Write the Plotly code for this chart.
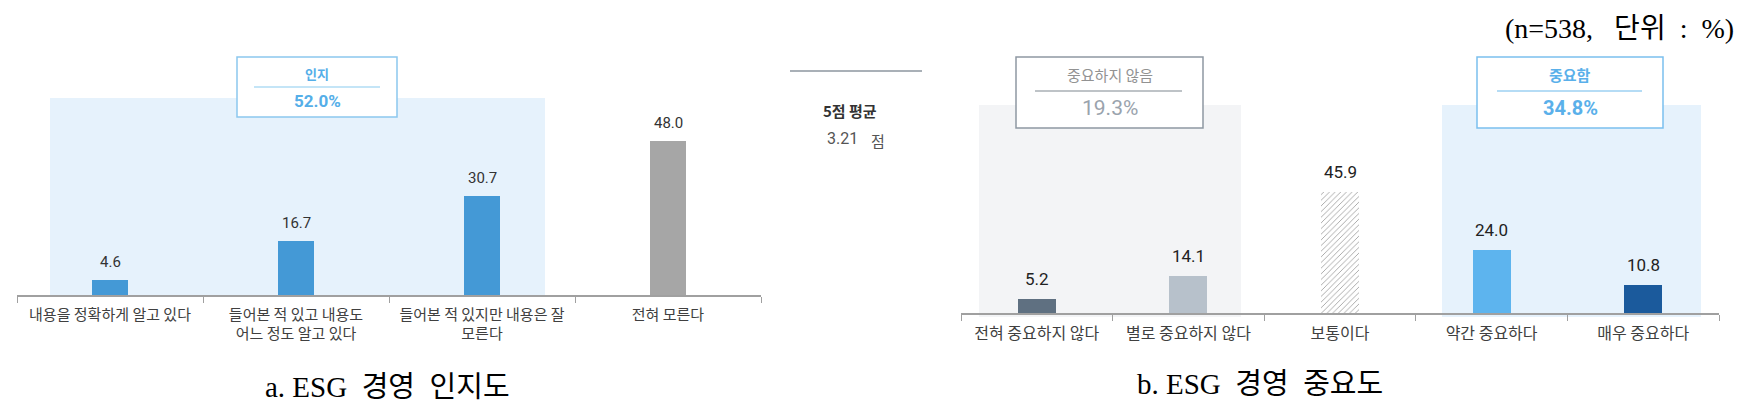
import plotly.graph_objects as go

# ---------------- data ----------------
aw_cats = ["내용을 정확하게 알고 있다",
           "들어본 적 있고 내용도<br>어느 정도 알고 있다",
           "들어본 적 있지만 내용은 잘<br>모른다",
           "전혀 모른다"]
aw_vals = [4.6, 16.7, 30.7, 48.0]
aw_colors = ["#4499D6", "#4499D6", "#4499D6", "#A6A6A6"]
aware_total = 52.0

im_cats = ["전혀 중요하지 않다", "별로 중요하지 않다", "보통이다", "약간 중요하다", "매우 중요하다"]
im_vals = [5.2, 14.1, 45.9, 24.0, 10.8]
im_colors = ["#5F7081", "#B7C1CB", "#FFFFFF", "#5DB4EE", "#1B5A9C"]
im_pattern = ["", "", "/", "", ""]
not_important_total = 19.3
important_total = 34.8
avg_score = 3.21
n_resp = 538

# ---------------- helpers (page pixel -> paper) ----------------
# the page body has an 8px default margin, so the figure is offset by 8px
PAGE_W, PAGE_H = 1749, 413
OFF = 8
W, H = PAGE_W - OFF, PAGE_H - OFF
def px(x):
    return (x - OFF) / W
def py(y):
    return 1 - (y - OFF) / H

SANS = "Roboto, Noto Sans CJK KR, sans-serif"
KR = "Noto Sans CJK KR, sans-serif"
SERIF = "Liberation Serif, Noto Sans CJK KR, serif"
SP = "\u00a0"

fig = go.Figure()

fig.add_trace(go.Bar(
    x=aw_cats, y=aw_vals, marker=dict(color=aw_colors, line=dict(width=0)),
    width=0.19, xaxis="x", yaxis="y", hoverinfo="skip", showlegend=False))

fig.add_trace(go.Bar(
    x=im_cats, y=im_vals,
    marker=dict(color=im_colors, line=dict(width=0),
                pattern=dict(shape=im_pattern, fgcolor="#D3D8DE", bgcolor="#FFFFFF",
                             size=4, solidity=0.22)),
    width=0.25, xaxis="x2", yaxis="y2", hoverinfo="skip", showlegend=False))

annotations = []
for c, v in zip(aw_cats, aw_vals):
    annotations.append(dict(x=c, y=v, xref="x", yref="y", text=f"{v:.1f}",
                            showarrow=False, yanchor="middle", yshift=18,
                            font=dict(family=SANS, size=15, color="#333333")))
for c, v in zip(im_cats, im_vals):
    annotations.append(dict(x=c, y=v, xref="x2", yref="y2", text=f"{v:.1f}",
                            showarrow=False, yanchor="middle", yshift=20,
                            font=dict(family=SANS, size=17, color="#222222")))

shapes = []
# shaded groups
shapes.append(dict(type="rect", xref="paper", yref="paper", x0=px(50), x1=px(545),
                   y0=py(295), y1=py(98), fillcolor="#E6F2FC", line=dict(width=0), layer="below"))
shapes.append(dict(type="rect", xref="paper", yref="paper", x0=px(979), x1=px(1241),
                   y0=py(317), y1=py(105), fillcolor="#F3F4F6", line=dict(width=0), layer="below"))
shapes.append(dict(type="rect", xref="paper", yref="paper", x0=px(1442), x1=px(1701),
                   y0=py(317), y1=py(105), fillcolor="#E6F2FC", line=dict(width=0), layer="below"))

# summary boxes
def summary_box(x0, x1, y0, y1, line_y, lx0, lx1, border, inner, title, value,
                tcolor, vcolor, tsize, vsize, bold):
    shapes.append(dict(type="rect", xref="paper", yref="paper", x0=px(x0), x1=px(x1),
                       y0=py(y1), y1=py(y0), fillcolor="#FFFFFF",
                       line=dict(color=border, width=1.5), layer="above"))
    shapes.append(dict(type="line", xref="paper", yref="paper", x0=px(lx0), x1=px(lx1),
                       y0=py(line_y), y1=py(line_y), line=dict(color=inner, width=1.2)))
    cx = (x0 + x1) / 2
    t = f"<b>{title}</b>" if bold else title
    v = f"<b>{value}</b>" if bold else value
    annotations.append(dict(x=px(cx), y=py((y0 + line_y) / 2 + 1), xref="paper", yref="paper",
                            text=t, showarrow=False, xanchor="center", yanchor="middle",
                            font=dict(family=KR, size=tsize, color=tcolor)))
    annotations.append(dict(x=px(cx), y=py((line_y + y1) / 2 - 1), xref="paper", yref="paper",
                            text=v, showarrow=False, xanchor="center", yanchor="middle",
                            font=dict(family=SANS, size=vsize, color=vcolor)))

summary_box(237, 397, 57, 117, 87, 254, 380, "#8CC8EE", "#8ACBF0", "인지",
            f"{aware_total:.1f}%", "#55AEE8", "#55AEE8", 13, 17, True)
summary_box(1016, 1203, 57, 128, 91, 1035, 1182, "#8E98A3", "#7F8790", "중요하지 않음",
            f"{not_important_total:.1f}%", "#929292", "#9AA3AD", 15, 21, False)
summary_box(1477, 1663, 57, 128, 91, 1497, 1642, "#7BC0EE", "#6DB9EC", "중요함",
            f"{important_total:.1f}%", "#5AB0EA", "#5AB0EA", 15, 20, True)

# middle average block
shapes.append(dict(type="line", xref="paper", yref="paper", x0=px(790), x1=px(922),
                   y0=py(71), y1=py(71), line=dict(color="#A9B0B7", width=2)))
annotations.append(dict(x=px(850), y=py(98), xref="paper", yref="paper",
                        text="<b>5점 평균</b>", showarrow=False,
                        font=dict(family=KR, size=15, color="#333333")))
annotations.append(dict(x=px(842), y=py(127), xref="paper", yref="paper",
                        text=f"{avg_score:.2f}", showarrow=False,
                        font=dict(family=SANS, size=16, color="#555555")))
annotations.append(dict(x=px(878), y=py(128), xref="paper", yref="paper",
                        text="점", showarrow=False,
                        font=dict(family=KR, size=15, color="#555555")))

# note and captions
annotations.append(dict(x=px(1736), y=py(29), xref="paper", yref="paper",
                        text=f"(n={n_resp},{SP*3}단위{SP*2}:{SP*2}%)", showarrow=False,
                        xanchor="right", yanchor="middle",
                        font=dict(family=SERIF, size=28, color="#000000")))
annotations.append(dict(x=px(387), y=py(387), xref="paper", yref="paper",
                        text=f"a.{SP}ESG{SP*2}경영{SP*2}인지도", showarrow=False,
                        xanchor="center", yanchor="middle",
                        font=dict(family=SERIF, size=29, color="#000000")))
annotations.append(dict(x=px(1260), y=py(384), xref="paper", yref="paper",
                        text=f"b.{SP}ESG{SP*2}경영{SP*2}중요도", showarrow=False,
                        xanchor="center", yanchor="middle",
                        font=dict(family=SERIF, size=29, color="#000000")))

axis_common = dict(type="category", showgrid=False, zeroline=False, showline=True,
                   linecolor="#A0A0A0", linewidth=1.5, ticks="outside", tickson="boundaries",
                   ticklen=6, tickcolor="#A0A0A0", tickwidth=1, fixedrange=True)

fig.update_layout(
    width=W, height=H, autosize=False,
    margin=dict(l=0, r=0, t=0, b=0),
    paper_bgcolor="#FFFFFF", plot_bgcolor="rgba(0,0,0,0)",
    bargap=0,
    xaxis=dict(domain=[px(17), px(761)], anchor="y", range=[-0.5, 3.5],
               tickfont=dict(family=KR, size=15, color="#404040"), ticklabelstandoff=5,
               **axis_common),
    yaxis=dict(domain=[py(295), py(40)], range=[0, (295 - 40) / 3.21], visible=False,
               fixedrange=True),
    xaxis2=dict(domain=[px(961), px(1719)], anchor="y2", range=[-0.5, 4.5],
                tickfont=dict(family=KR, size=16, color="#404040"), ticklabelstandoff=5,
                **axis_common),
    yaxis2=dict(domain=[py(313), py(40)], range=[0, (313 - 40) / 2.63], visible=False,
                fixedrange=True),
    shapes=shapes,
    annotations=annotations,
)

fig.write_html("out.html")
